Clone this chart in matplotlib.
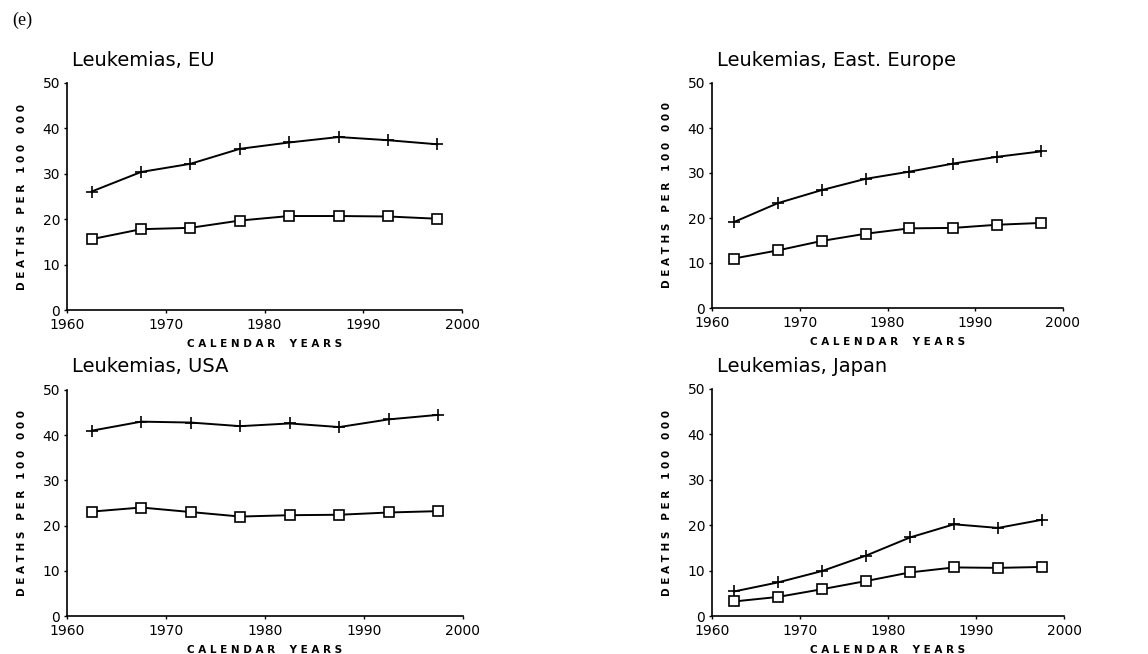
import matplotlib
matplotlib.use("Agg")
import matplotlib.pyplot as plt

years = [1962.5, 1967.5, 1972.5, 1977.5, 1982.5, 1987.5, 1992.5, 1997.5]

titles = ["Leukemias, EU", "Leukemias, East. Europe", "Leukemias, USA", "Leukemias, Japan"]

eu_plus = [26.1, 30.4, 32.2, 35.5, 36.9, 38.1, 37.4, 36.5]
eu_square = [15.6, 17.8, 18.1, 19.7, 20.7, 20.7, 20.6, 20.1]

ee_plus = [19.1, 23.3, 26.2, 28.7, 30.3, 32.1, 33.6, 34.8]
ee_square = [11.0, 12.8, 14.9, 16.5, 17.7, 17.8, 18.5, 18.9]

usa_plus = [41.0, 43.0, 42.8, 42.0, 42.6, 41.8, 43.5, 44.5]
usa_square = [23.1, 24.0, 23.0, 22.0, 22.3, 22.4, 22.9, 23.2]

jp_plus = [5.4, 7.4, 9.9, 13.3, 17.3, 20.2, 19.4, 21.2]
jp_square = [3.2, 4.2, 5.9, 7.7, 9.6, 10.7, 10.6, 10.8]

xticks = [1960, 1970, 1980, 1990, 2000]
yticks = [0, 10, 20, 30, 40, 50]

ylabel = "D E A T H S   P E R   1 0 0   0 0 0"
xlabel = "C A L E N D A R    Y E A R S"

fig = plt.figure(figsize=(11.48, 6.54), dpi=100)
W, H = 1148, 654

# axes rectangles in pixel coords: (left, right, top, bottom)
rects = [
    (67, 462, 83, 310),
    (712, 1063, 83, 308),
    (67, 463, 390, 616),
    (712, 1064, 389, 616),
]
series = [(eu_plus, eu_square), (ee_plus, ee_square), (usa_plus, usa_square), (jp_plus, jp_square)]

for (l, r, t, b), (plus, sq), title in zip(rects, series, titles):
    ax = fig.add_axes([l / W, 1 - b / H, (r - l) / W, (b - t) / H])
    ax.plot(years, plus, color="black", lw=1.4, marker="+", markersize=9, markeredgewidth=1.2)
    ax.plot(years, sq, color="black", lw=1.4, marker="s", markersize=6.5,
            markerfacecolor="white", markeredgewidth=1.2)
    ax.set_xlim(1960, 2000)
    ax.set_ylim(0, 50)
    ax.set_xticks(xticks)
    ax.set_yticks(yticks)
    ax.spines["top"].set_visible(False)
    ax.spines["right"].set_visible(False)
    ax.spines["left"].set_linewidth(1.2)
    ax.spines["bottom"].set_linewidth(1.2)
    ax.tick_params(axis="both", direction="out", length=2, width=1, labelsize=10, pad=3)
    ax.tick_params(axis="x", pad=4)
    ax.set_ylabel(ylabel, fontsize=7.5, fontweight="bold", labelpad=11)
    ax.set_xlabel(xlabel, fontsize=7.5, fontweight="bold", labelpad=5)
    fig.text((l + 5) / W, 1 - (t - 23) / H, title, fontsize=14, va="center", ha="left")

fig.text(12 / W, 1 - 20 / H, "(e)", fontsize=13, family="Liberation Serif", va="center", ha="left")

fig.savefig("out.png", dpi=100)
